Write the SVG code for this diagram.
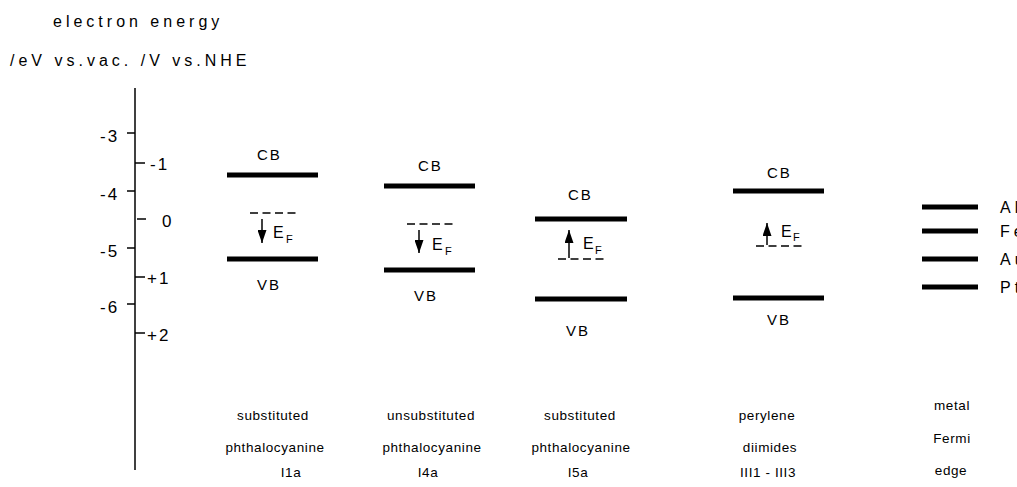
<svg xmlns="http://www.w3.org/2000/svg" width="1017" height="487" viewBox="0 0 1017 487">
<style>
text{font-family:"Liberation Sans",Arial,sans-serif;fill:#000}
.t{font-size:16px;letter-spacing:4px}
.ax{font-size:17px;letter-spacing:2px}
.bl{font-size:15px;letter-spacing:2px}
.ef{font-size:16px}
.sub{font-size:11px}
.lb{font-size:13.5px;letter-spacing:0.6px;text-anchor:middle}
.bar{stroke:#000;stroke-width:5;fill:none}
.dash{stroke:#000;stroke-width:1.5;stroke-dasharray:8 4.5;fill:none}
.ln{stroke:#000;stroke-width:1.5;fill:none}
.mt{font-size:16px;letter-spacing:4px}
</style>
<defs>
<marker id="ah" markerWidth="13" markerHeight="9" refX="13" refY="4.5" orient="auto" markerUnits="userSpaceOnUse" viewBox="0 0 13 9">
<path d="M0,0 L13,4.5 L0,9 Z" fill="#000"/>
</marker>
</defs>
<g id="title">
<text class="t" x="53" y="27">electron energy</text>
<text class="t" x="10" y="66">/eV vs.vac. /V vs.NHE</text>
</g>
<g id="axis">
<line class="ln" x1="135" y1="88" x2="135" y2="470"/>
<line class="ln" x1="127" y1="133" x2="135" y2="133"/>
<line class="ln" x1="127" y1="191" x2="135" y2="191"/>
<line class="ln" x1="127" y1="248" x2="135" y2="248"/>
<line class="ln" x1="127" y1="304" x2="135" y2="304"/>
<line class="ln" x1="135" y1="163" x2="145" y2="163"/>
<line class="ln" x1="137" y1="219" x2="146" y2="219"/>
<line class="ln" x1="135" y1="277" x2="145" y2="277"/>
<line class="ln" x1="135" y1="333" x2="145" y2="333"/>
<text class="ax" x="100" y="142">-3</text>
<text class="ax" x="100" y="200">-4</text>
<text class="ax" x="100" y="257">-5</text>
<text class="ax" x="100" y="313">-6</text>
<text class="ax" x="150" y="170">-1</text>
<text class="ax" x="162" y="227">0</text>
<text class="ax" x="147" y="284">+1</text>
<text class="ax" x="147" y="341">+2</text>
</g>
<g id="band1">
<text class="bl" x="257" y="160">CB</text>
<line class="bar" x1="227" y1="175" x2="318" y2="175"/>
<line class="dash" x1="250" y1="213" x2="296" y2="213"/>
<text class="ef" x="273" y="238">E</text><text class="sub" x="286" y="243">F</text>
<line class="bar" x1="227" y1="259" x2="318" y2="259"/>
<text class="bl" x="257" y="290">VB</text>
<text class="lb" x="273" y="420">substituted</text>
<text class="lb" x="275" y="452">phthalocyanine</text>
<text class="lb" x="291" y="477">I1a</text>
</g>
<g id="band2">
<text class="bl" x="418" y="171">CB</text>
<line class="bar" x1="384" y1="186" x2="475" y2="186"/>
<line class="dash" x1="407" y1="224" x2="453" y2="224"/>
<text class="ef" x="432" y="250">E</text><text class="sub" x="445" y="255">F</text>
<line class="bar" x1="384" y1="270" x2="475" y2="270"/>
<text class="bl" x="414" y="301">VB</text>
<text class="lb" x="431" y="420">unsubstituted</text>
<text class="lb" x="432" y="452">phthalocyanine</text>
<text class="lb" x="428" y="477">I4a</text>
</g>
<g id="band3">
<text class="bl" x="568" y="200">CB</text>
<line class="bar" x1="535" y1="219" x2="627" y2="219"/>
<text class="ef" x="583" y="249">E</text><text class="sub" x="595" y="254">F</text>
<line class="dash" x1="558" y1="259" x2="604" y2="259"/>
<line class="bar" x1="535" y1="299" x2="627" y2="299"/>
<text class="bl" x="566" y="336">VB</text>
<text class="lb" x="580" y="420">substituted</text>
<text class="lb" x="581" y="452">phthalocyanine</text>
<text class="lb" x="578" y="477">I5a</text>
</g>
<g id="band4">
<text class="bl" x="767" y="178">CB</text>
<line class="bar" x1="733" y1="191" x2="824" y2="191"/>
<text class="ef" x="781" y="237">E</text><text class="sub" x="793" y="241">F</text>
<line class="dash" x1="756" y1="246" x2="802" y2="246"/>
<line class="bar" x1="733" y1="298" x2="824" y2="298"/>
<text class="bl" x="767" y="325">VB</text>
<text class="lb" x="767" y="420">perylene</text>
<text class="lb" x="770" y="452">diimides</text>
<text class="lb" x="768" y="477">III1 - III3</text>
</g>
<g id="metals">
<line class="bar" x1="922" y1="207" x2="978" y2="207"/>
<line class="bar" x1="922" y1="231" x2="978" y2="231"/>
<line class="bar" x1="922" y1="259" x2="978" y2="259"/>
<line class="bar" x1="922" y1="287" x2="978" y2="287"/>
<text class="mt" x="1000" y="213">Al</text>
<text class="mt" x="1000" y="237">Fe</text>
<text class="mt" x="1000" y="265">Au</text>
<text class="mt" x="1000" y="293">Pt</text>
<text class="lb" x="952" y="410">metal</text>
<text class="lb" x="952" y="443">Fermi</text>
<text class="lb" x="951" y="475">edge</text>
</g>
<g id="connectors">
<line class="ln" x1="262" y1="219" x2="262" y2="243" marker-end="url(#ah)"/>
<line class="ln" x1="419" y1="230" x2="419" y2="253" marker-end="url(#ah)"/>
<line class="ln" x1="569" y1="258" x2="569" y2="230" marker-end="url(#ah)"/>
<line class="ln" x1="767" y1="245" x2="767" y2="223" marker-end="url(#ah)"/>
</g>
</svg>
